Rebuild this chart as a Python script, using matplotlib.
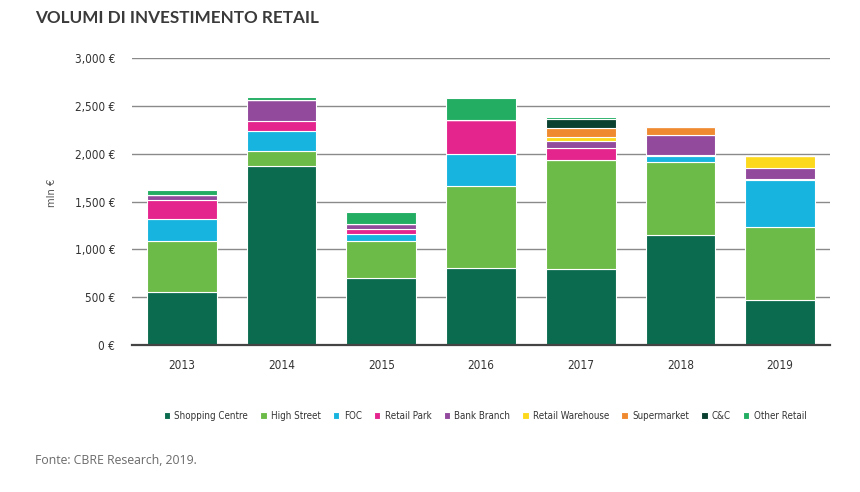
import numpy as np
import matplotlib.pyplot as plt

plt.rcParams['font.family'] = ['DejaVu Sans']
plt.rcParams['font.stretch'] = 'condensed'

years = ['2013', '2014', '2015', '2016', '2017', '2018', '2019']
shopping_centre = [555, 1875, 700, 800, 790, 1150, 470]
high_street = [530, 150, 385, 860, 1145, 765, 765]
foc = [230, 215, 75, 335, 0, 65, 490]
retail_park = [200, 100, 55, 355, 120, 10, 15]
bank_branch = [50, 225, 50, 0, 77, 200, 110]
retail_warehouse = [0, 0, 0, 0, 46, 0, 130]
supermarket = [0, 0, 0, 0, 94, 85, 0]
cc = [0, 0, 0, 0, 86, 0, 0]
other_retail = [55, 30, 125, 235, 28, 15, 0]

series = [
    ('Shopping Centre', shopping_centre, '#0b6b4f'),
    ('High Street', high_street, '#6cbb48'),
    ('FOC', foc, '#16b4df'),
    ('Retail Park', retail_park, '#e5258e'),
    ('Bank Branch', bank_branch, '#924a9c'),
    ('Retail Warehouse', retail_warehouse, '#fcd91c'),
    ('Supermarket', supermarket, '#f08a30'),
    ('C&C', cc, '#0a4030'),
    ('Other Retail', other_retail, '#22ad63'),
]

fig = plt.figure(figsize=(8.6, 4.92), dpi=100)
ax = fig.add_axes([132 / 860, 1 - 345 / 492, 698 / 860, 287 / 492])

x = np.arange(len(years))
bottom = np.zeros(len(years))
for name, vals, col in series:
    vals = np.array(vals, dtype=float)
    ax.bar(x, vals, 0.7, bottom=bottom, color=col, edgecolor='white',
           linewidth=0.8, label=name, zorder=3)
    bottom += vals

ax.set_xlim(-0.5, 6.5)
ax.set_ylim(0, 3000)
ax.set_yticks(np.arange(0, 3001, 500))
ax.set_yticklabels(['{:,.0f} €'.format(v) for v in np.arange(0, 3001, 500)])
ax.set_xticks(x)
ax.set_xticklabels(years)
ax.yaxis.grid(True, color='#8a8a8a', linewidth=1.0, zorder=0)
for s in ['top', 'right', 'left']:
    ax.spines[s].set_visible(False)
ax.spines['bottom'].set_color('#444444')
ax.spines['bottom'].set_linewidth(1.6)
ax.spines['bottom'].set_zorder(4)
ax.tick_params(axis='both', length=0, labelsize=8.5, colors='#333333')
ax.tick_params(axis='y', pad=12)
ax.tick_params(axis='x', pad=10)
ax.set_ylabel('mln €', fontsize=8, color='#555555')
ax.yaxis.set_label_coords(-(132 - 57) / 698, (345 - 193) / 287)

ax.legend(loc='upper center', bbox_to_anchor=(0.506, -0.2), ncol=9,
          frameon=False, fontsize=7, handlelength=0.65, handleheight=0.65,
          handletextpad=0.45, columnspacing=1.25, labelcolor='#333333')

fig.text(35 / 860, 1 - 18 / 492, 'VOLUMI DI INVESTIMENTO RETAIL', fontsize=12.3,
         fontweight='bold', color='#3a3a3a', va='center',
         family=['Lato', 'DejaVu Sans'], fontstretch='normal')
fig.text(35 / 860, 1 - 460 / 492, 'Fonte: CBRE Research, 2019.', fontsize=8.8,
         color='#6a6a6a', va='center', family=['Open Sans', 'DejaVu Sans'],
         fontstretch='normal')

fig.savefig('out.png', dpi=100)
